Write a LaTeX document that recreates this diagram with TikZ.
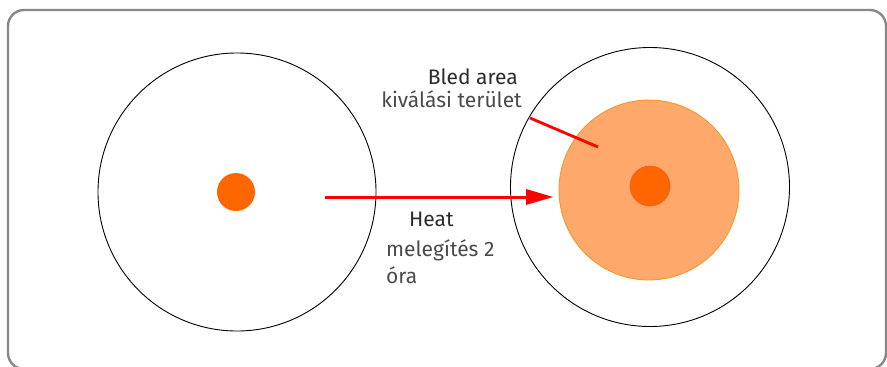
\documentclass[tikz,border=0pt]{standalone}
\usepackage{fontspec}
\setmainfont{Fira Sans}
\definecolor{framegray}{HTML}{888888}
\definecolor{dotorange}{HTML}{FF6600}
\definecolor{dotedge}{HTML}{F26522}
\definecolor{bledfill}{HTML}{FFA86C}
\definecolor{bledge}{HTML}{F7941D}
\definecolor{txtdark}{HTML}{2B2B2B}
\definecolor{txtgray}{HTML}{4A4A4A}
\definecolor{arrowred}{HTML}{FF0000}
\begin{document}
\begin{tikzpicture}[x=1pt,y=-1pt,
  lbl/.style={font=\fontsize{21}{24}\selectfont,inner sep=0pt},
  redline/.style={draw=arrowred,line width=3pt},
  ring/.style={draw=black,line width=0.9pt,circle,inner sep=0pt}]
\useasboundingbox (0,0) rectangle (887,367);
\begin{scope}
\clip (0,0) rectangle (887,367);
\draw[framegray,line width=2.4pt,rounded corners=16pt] (8,10) rectangle (886,369);
\end{scope}
% circles
\node[ring,minimum size=278pt] (left) at (237,192) {};
\node[ring,minimum size=279pt] (right) at (650,187) {};
\node[circle,fill=dotorange,inner sep=0pt,minimum size=38pt] (dotL) at (236,192) {};
\node[circle,fill=bledfill,draw=bledge,line width=0.8pt,inner sep=0pt,minimum size=180pt] (bled) at (649,190) {};
\node[circle,fill=dotorange,draw=dotedge,line width=0.8pt,inner sep=0pt,minimum size=40pt] (dotR) at (650,186) {};
% arrow
\coordinate (aS) at (325,197);
\coordinate (aE) at (527,197);
\draw[redline] (aS) -- (aE);
\fill[arrowred] (526,189) -- (553,197) -- (526,205) -- cycle;
% bled pointer
\coordinate (pS) at (530,118);
\coordinate (pE) at (598,147);
\draw[redline,line width=2.8pt] (pS) -- (pE);
% texts
\node[lbl,anchor=base east,text=txtdark] (t1) at (518,84) {Bled area};
\node[lbl,anchor=base east,text=txtgray] (t2) at (522,107) {kiválási terület};
\node[lbl,anchor=base west,text=txtdark] (t3) at (409,226) {Heat};
\node[lbl,anchor=base west,text=txtgray] (t4) at (386,256) {melegítés 2};
\node[lbl,anchor=base west,text=txtgray] (t5) at (386,283) {óra};
\end{tikzpicture}
\end{document}
